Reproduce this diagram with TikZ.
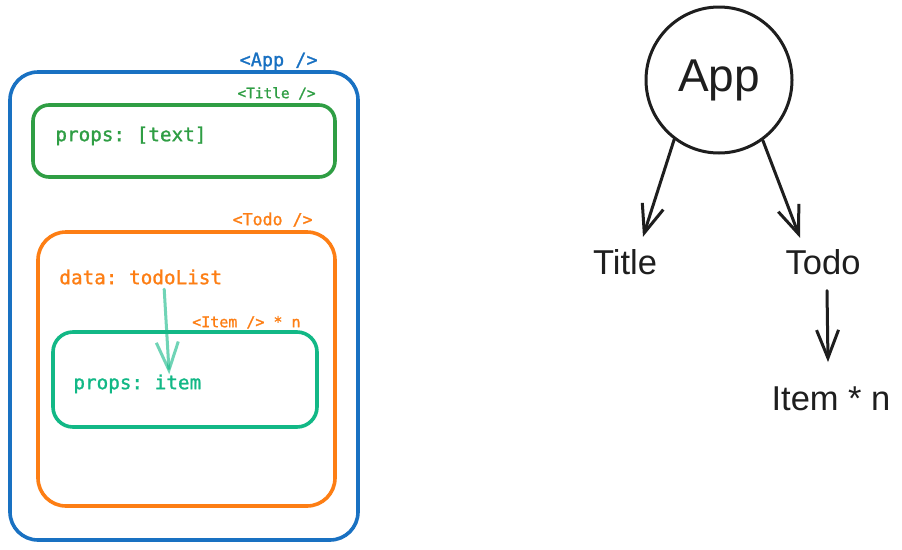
\documentclass[tikz,border=0pt]{standalone}
\usepackage{fontspec}
\setmonofont[BoldFont={DejaVu Sans Mono}, BoldFeatures={FakeBold=1.2}]{DejaVu Sans Mono}
\newfontfamily\arialfont{Liberation Sans}
\usetikzlibrary{arrows.meta,calc}
\definecolor{cblue}{HTML}{1971C2}
\definecolor{cgreen}{HTML}{2F9E44}
\definecolor{corange}{HTML}{FD7E14}
\definecolor{cteal}{HTML}{12B886}
\definecolor{cink}{HTML}{1E1E1E}
\tikzset{
  compbox/.style={draw=#1, line width=3.6pt, inner sep=0pt},
  tag/.style={text=#1, font=\ttfamily\bfseries\fontsize{15}{18}\selectfont, inner sep=0pt, anchor=base east},
  body/.style={text=#1, font=\ttfamily\bfseries\fontsize{19.3}{23}\selectfont, inner sep=0pt, anchor=base west},
  treetxt/.style={text=cink, font=\arialfont\fontsize{34.5}{40}\selectfont, inner sep=0pt, anchor=base},
  treearrow/.style={draw=cink, line width=3pt, line cap=round, line join=round,
    -{Straight Barb[length=28pt,width=22pt]}},
  dataarrow/.style={draw=cteal, draw opacity=0.6, line width=3pt, line cap=round, line join=round,
    -{Straight Barb[length=28pt,width=22pt]}},
}
\begin{document}
\begin{tikzpicture}[x=1pt,y=-1pt]
\useasboundingbox[fill=white] (0,0) rectangle (902,549);

% ---------- left: component boxes ----------
\node[compbox=cblue, rounded corners=28pt, minimum width=348pt, minimum height=468pt] (appbox) at (184,306) {};
\node[compbox=cgreen, rounded corners=16pt, minimum width=302pt, minimum height=72pt] (titlebox) at (184,141) {};
\node[compbox=corange, rounded corners=28pt, minimum width=297pt, minimum height=274pt] (todobox) at (186.5,369) {};
\node[compbox=cteal, rounded corners=20pt, minimum width=264pt, minimum height=95pt] (itembox) at (185,379.5) {};

\node[tag=cblue, font=\ttfamily\bfseries\fontsize{18.5}{22}\selectfont] (applbl) at ($(appbox.north east)+(-42,-4)$) {<App />};
\node[tag=cgreen, font=\ttfamily\bfseries\fontsize{14.4}{17}\selectfont] (titlelbl) at ($(titlebox.north east)+(-21,-5)$) {<Title />};
\node[tag=corange, font=\ttfamily\bfseries\fontsize{16.6}{20}\selectfont] (todolbl) at ($(todobox.north east)+(-24,-5)$) {<Todo />};
\node[tag=corange] (itemlbl) at ($(itembox.north east)+(-18,-3)$) {<Item /> * n};

\node[body=cgreen] (titleprops) at ($(titlebox.north west)+(24,38)$) {props: [text]};
\node[body=corange] (tododata) at ($(todobox.north west)+(23,54)$) {data: todoList};
\node[body=cteal] (itemprops) at ($(itembox.north west)+(22,59)$) {props: item};

\draw[dataarrow] ($(tododata.base west)+(105,5)$) -- ($(itemprops.base west)+(96,-15)$);

% ---------- right: tree ----------
\node[draw=cink, line width=3pt, circle, minimum size=146pt, inner sep=0pt,
      text=cink, font=\arialfont\fontsize{46}{52}\selectfont] (app) at (719,80) {App};
\node[treetxt] (title) at (625,274) {Title};
\node[treetxt] (todo) at (823,274) {Todo};
\node[treetxt] (item) at (831,410) {Item * n};

\draw[treearrow] (app.233) -- ($(title.north)+(18,-12)$);
\draw[treearrow] (app.306) -- ($(todo.north)+(-23,-11)$);
\draw[treearrow] ($(todo.south)+(4,16)$) -- ($(item.north)+(-3,-24)$);
\end{tikzpicture}
\end{document}
